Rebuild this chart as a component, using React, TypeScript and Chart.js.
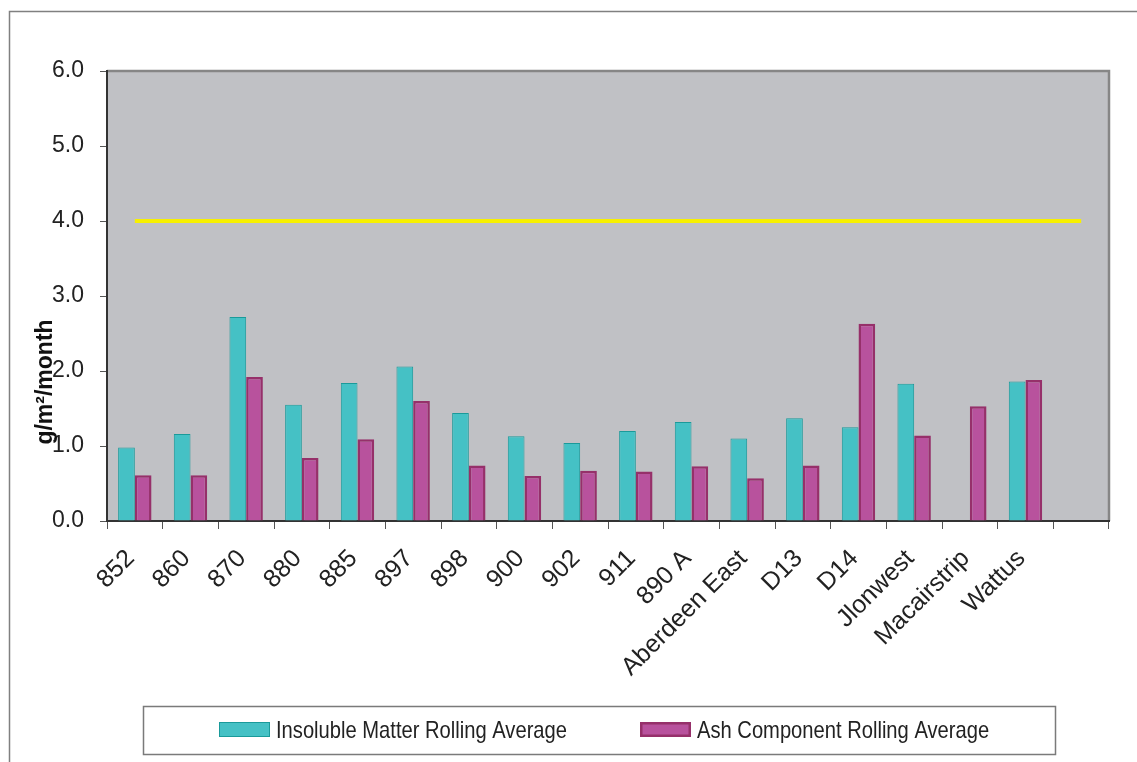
import React, { useEffect, useRef } from 'react';
import { Chart, registerables } from 'chart.js';

Chart.register(...registerables);

const categories = ['852', '860', '870', '880', '885', '897', '898', '900', '902', '911', '890 A', 'Aberdeen East', 'D13', 'D14', 'Jlonwest', 'Macairstrip', 'Wattus', ''];
const insolubleMatter = [0.98, 1.16, 2.72, 1.55, 1.84, 2.06, 1.44, 1.13, 1.04, 1.2, 1.32, 1.1, 1.37, 1.25, 1.83, null, 1.86, null];
const ashComponent = [0.61, 0.61, 1.92, 0.84, 1.09, 1.6, 0.74, 0.6, 0.67, 0.66, 0.73, 0.57, 0.74, 2.63, 1.14, 1.53, 1.88, null];
const guideline = [4, 4, 4, 4, 4, 4, 4, 4, 4, 4, 4, 4, 4, 4, 4, 4, 4, 4];
const seriesNames = ['Insoluble Matter Rolling Average', 'Ash Component Rolling Average'];
const yAxisTitle = 'g/m²/month';
const yMin = 0;
const yMax = 6;
const yStep = 1;

const REGULAR = '"Liberation Sans", Arial, sans-serif';

const decorPlugin = {
  id: 'decor',
  beforeDraw(chart: any) {
    const { ctx, chartArea } = chart;
    const { left, top, right, bottom } = chartArea;
    ctx.save();
    ctx.fillStyle = '#ffffff';
    ctx.fillRect(0, 0, chart.width, chart.height);
    // outer frame
    ctx.strokeStyle = '#808080';
    ctx.lineWidth = 1.5;
    ctx.strokeRect(9.5, 11.5, chart.width + 20, chart.height + 20);
    // plot background
    ctx.fillStyle = '#C0C1C5';
    ctx.fillRect(left, top, right - left, bottom - top);
    ctx.strokeStyle = '#868686';
    ctx.lineWidth = 2.5;
    ctx.beginPath();
    ctx.moveTo(left, top);
    ctx.lineTo(right, top);
    ctx.lineTo(right, bottom);
    ctx.stroke();
    ctx.restore();
  },
  afterDraw(chart: any) {
    const { ctx } = chart;
    ctx.save();
    // y axis title
    ctx.translate(46, 382);
    ctx.rotate(-Math.PI / 2);
    ctx.fillStyle = '#111111';
    ctx.font = 'bold 23px ' + REGULAR;
    ctx.textAlign = 'center';
    ctx.textBaseline = 'middle';
    ctx.fillText(yAxisTitle, 0, 0);
    ctx.restore();

    // legend
    ctx.save();
    ctx.strokeStyle = '#7A7A7A';
    ctx.lineWidth = 1.5;
    ctx.strokeRect(143.5, 706.5, 912, 48);
    const items = [
      { ds: chart.data.datasets[0], bx: 219, tx: 276 },
      { ds: chart.data.datasets[1], bx: 640, tx: 697 },
    ];
    ctx.font = '24px ' + REGULAR;
    ctx.textBaseline = 'middle';
    ctx.textAlign = 'left';
    for (const it of items) {
      ctx.fillStyle = it.ds.backgroundColor;
      ctx.fillRect(it.bx, 722, 51, 15);
      ctx.strokeStyle = it.ds.borderColor;
      ctx.lineWidth = it.ds.borderWidth;
      ctx.strokeRect(it.bx + it.ds.borderWidth / 2, 722 + it.ds.borderWidth / 2, 51 - it.ds.borderWidth, 15 - it.ds.borderWidth);
      ctx.save();
      ctx.translate(it.tx, 731);
      ctx.scale(0.84, 1);
      ctx.fillStyle = '#222222';
      ctx.fillText(it.ds.label, 0, 0);
      ctx.restore();
    }
    ctx.restore();
  },
};

export default function App() {
  const ref = useRef<HTMLCanvasElement | null>(null);
  useEffect(() => {
    if (!ref.current) return;
    const chart = new Chart(ref.current, {
      type: 'bar',
      data: {
        labels: categories,
        datasets: [
          {
            label: seriesNames[0],
            data: insolubleMatter,
            backgroundColor: '#45C1C5',
            borderColor: '#1A9A9A',
            borderWidth: 1,
            categoryPercentage: 0.6,
            barPercentage: 1.0,
            order: 2,
          },
          {
            label: seriesNames[1],
            data: ashComponent,
            backgroundColor: '#B8529D',
            borderColor: '#96306A',
            borderWidth: 2.5,
            categoryPercentage: 0.6,
            barPercentage: 1.0,
            order: 2,
          },
          {
            type: 'line',
            label: '',
            data: guideline,
            borderColor: '#F7F000',
            borderWidth: 4,
            pointRadius: 0,
            fill: false,
            order: 1,
          } as any,
        ],
      },
      plugins: [decorPlugin],
      options: {
        responsive: false,
        animation: false,
        devicePixelRatio: 1,
        layout: { padding: { left: 0, right: 28, top: 71, bottom: 71 } },
        plugins: {
          legend: { display: false },
          tooltip: { enabled: false },
        },
        scales: {
          x: {
            offset: true,
            grid: { display: true, drawOnChartArea: false, drawTicks: true, tickLength: 8, color: '#555555', offset: true },
            border: { display: true, color: '#333333', width: 2 },
            ticks: {
              autoSkip: false,
              minRotation: 45,
              maxRotation: 45,
              padding: 15,
              labelOffset: -4,
              color: '#222222',
              font: { family: REGULAR, size: 25 },
            },
            afterFit: (scale: any) => {
              scale.height = 170;
            },
          },
          y: {
            min: yMin,
            max: yMax,
            ticks: {
              stepSize: yStep,
              padding: 16,
              color: '#222222',
              font: { family: REGULAR, size: 23 },
              callback: (v: any) => Number(v).toFixed(1),
            },
            grid: { display: true, drawOnChartArea: false, drawTicks: true, tickLength: 7, color: '#555555' },
            border: { display: true, color: '#333333', width: 2 },
            afterFit: (scale: any) => {
              scale.width = 107;
            },
          },
        },
      } as any,
    });
    return () => chart.destroy();
  }, []);
  return (
    <div style={{ position: 'fixed', left: 0, top: 0, width: 1137, height: 762, background: '#fff' }}>
      <canvas ref={ref} width={1137} height={762} style={{ width: 1137, height: 762, display: 'block' }} />
    </div>
  );
}
